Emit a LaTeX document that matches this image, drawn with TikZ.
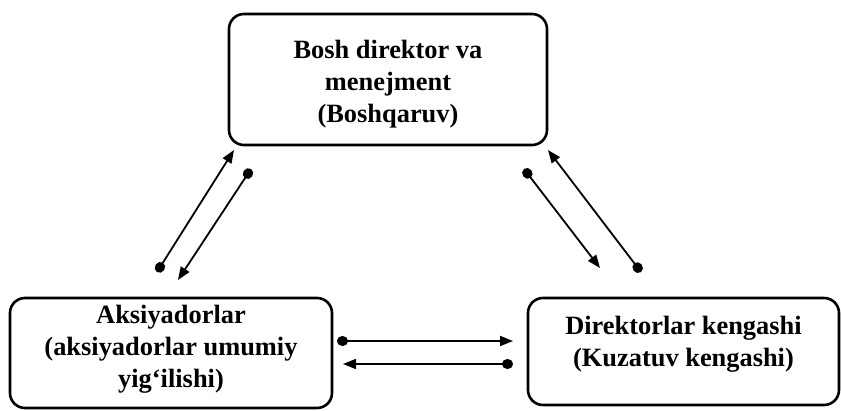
\documentclass[tikz,border=0pt]{standalone}
\usepackage{fontspec}
\setmainfont{Liberation Serif}
\usetikzlibrary{arrows.meta}
\begin{document}
\begin{tikzpicture}[x=0.5pt,y=-0.5pt,
    box/.style={draw, rounded corners=7.5pt, line width=1.3pt},
    txt/.style={align=center, font=\fontsize{13.2}{15.9}\selectfont\bfseries},
    link/.style={line width=0.9pt, {Circle[length=5.5pt,width=5pt]}-{Triangle[length=6.5pt,width=5pt]}}]
    \useasboundingbox (0,0) rectangle (841,411);

    \node[box, minimum width=159pt, minimum height=65.5pt] (A) at (388,79.5) {};
    \node[box, minimum width=161pt, minimum height=55pt] (B) at (171,353) {};
    \node[box, minimum width=155.5pt, minimum height=53.5pt] (C) at (683.5,351.5) {};

    \node[txt] (At) at (388,84) {Bosh direktor va\\menejment\\(Boshqaruv)};
    \node[txt] (Bt) at (171,349) {Aksiyadorlar\\(aksiyadorlar umumiy\\yig‘ilishi)};
    \node[txt] (Ct) at (683.5,344) {Direktorlar kengashi\\(Kuzatuv kengashi)};

    \coordinate (L1a) at (157,272);
    \coordinate (L1b) at (234,150);
    \coordinate (L2a) at (251,169);
    \coordinate (L2b) at (178,280);
    \coordinate (R1a) at (524,169);
    \coordinate (R1b) at (600,268);
    \coordinate (R2a) at (641,272);
    \coordinate (R2b) at (548,150);
    \coordinate (H1a) at (337,341);
    \coordinate (H1b) at (513,341);
    \coordinate (H2a) at (513,364);
    \coordinate (H2b) at (343,364);

    \draw[link] (L1a) -- (L1b);
    \draw[link] (L2a) -- (L2b);
    \draw[link] (R1a) -- (R1b);
    \draw[link] (R2a) -- (R2b);
    \draw[link] (H1a) -- (H1b);
    \draw[link] (H2a) -- (H2b);
\end{tikzpicture}
\end{document}
